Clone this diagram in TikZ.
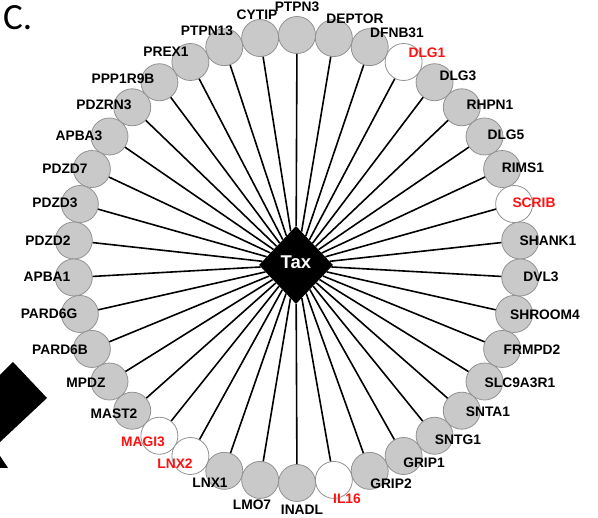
\documentclass[tikz,border=0pt]{standalone}
\usepackage{fontspec}
\setmainfont{Liberation Sans}
\newfontfamily\panelfont{Carlito}
\usetikzlibrary{shapes.geometric}
\definecolor{protgray}{HTML}{C9C9C9}
\definecolor{ringedge}{HTML}{929292}
\definecolor{hitred}{HTML}{FF1111}
\tikzset{
	prot/.style={circle, draw=ringedge, line width=0.8pt, fill=protgray,
		minimum size=37pt, inner sep=0pt},
	hit/.style={prot, fill=white},
	protlabel/.style={font=\fontsize{13.8}{14}\selectfont\bfseries, inner sep=0pt},
	prot label/.style={text=black},
	hit label/.style={text=hitred},
	link/.style={line width=1.6pt},
}
\begin{document}
\begin{tikzpicture}[x=1pt, y=-1pt]
	\useasboundingbox (0,0) rectangle (598,518);
	% Panel
	\node[anchor=base west, inner sep=0pt, font=\panelfont\fontsize{37}{40}\selectfont]
		(panel) at (3,30) {C.};
	% Nachbarpanel
	\fill (0,375) -- (13,362) -- (47,398) -- (0,442) -- cycle;
	\fill (0,456) -- (8,468) -- (0,468) -- cycle;
	% Zentrum
	\node[diamond, fill=black, minimum width=74pt, minimum height=78pt, inner sep=0pt,
		label={[yshift=3pt, text=white, font=\fontsize{18.5}{20}\selectfont\bfseries]center:Tax}]
		(tax) at (296,265) {};
	% Partner
	\foreach \i/\name/\kind/\lx/\ly in {
			0/SHANK1/prot/548/241, 1/SCRIB/hit/534/203, 2/RIMS1/prot/523/168,
			3/DLG5/prot/506/135, 4/RHPN1/prot/490/105, 5/DLG3/prot/458/76,
			6/DLG1/hit/427/53, 7/DFNB31/prot/397/33, 8/DEPTOR/prot/355/19,
			9/PTPN3/prot/297/7, 10/CYTIP/prot/257/15, 11/PTPN13/prot/207/31,
			12/PREX1/prot/166/52, 13/PPP1R9B/prot/123/79, 14/PDZRN3/prot/104/105,
			15/APBA3/prot/79/136, 16/PDZD7/prot/65/169, 17/PDZD3/prot/55/203,
			18/PDZD2/prot/48/241, 19/APBA1/prot/47/277, 20/PARD6G/prot/49/314,
			21/PARD6B/prot/60/350, 22/MPDZ/prot/86/383, 23/MAST2/prot/114/414,
			24/MAGI3/hit/143/442, 25/LNX2/hit/175/464, 26/LNX1/prot/210/483,
			27/LMO7/prot/252/505, 28/INADL/prot/302/510, 29/IL16/hit/347/499,
			30/GRIP2/prot/391/484, 31/GRIP1/prot/424/463, 32/SNTG1/prot/458/440,
			33/SNTA1/prot/488/412, 34/SLC9A3R1/prot/520/383, 35/FRMPD2/prot/532/350,
			36/SHROOM4/prot/545/315, 37/DVL3/prot/541/277}{
		\pgfmathsetmacro{\a}{4.737+\i*9.4737}
		\node[\kind] (n\i) at ({297+224*cos(\a)}, {259-224*sin(\a)}) {};
		\draw[link] (tax) -- (n\i);
	}
	% Beschriftung
	\foreach \i/\name/\kind/\lx/\ly in {
			0/SHANK1/prot/548/241, 1/SCRIB/hit/534/203, 2/RIMS1/prot/523/168,
			3/DLG5/prot/506/135, 4/RHPN1/prot/490/105, 5/DLG3/prot/458/76,
			6/DLG1/hit/427/53, 7/DFNB31/prot/397/33, 8/DEPTOR/prot/355/19,
			9/PTPN3/prot/297/7, 10/CYTIP/prot/257/15, 11/PTPN13/prot/207/31,
			12/PREX1/prot/166/52, 13/PPP1R9B/prot/123/79, 14/PDZRN3/prot/104/105,
			15/APBA3/prot/79/136, 16/PDZD7/prot/65/169, 17/PDZD3/prot/55/203,
			18/PDZD2/prot/48/241, 19/APBA1/prot/47/277, 20/PARD6G/prot/49/314,
			21/PARD6B/prot/60/350, 22/MPDZ/prot/86/383, 23/MAST2/prot/114/414,
			24/MAGI3/hit/143/442, 25/LNX2/hit/175/464, 26/LNX1/prot/210/483,
			27/LMO7/prot/252/505, 28/INADL/prot/302/510, 29/IL16/hit/347/499,
			30/GRIP2/prot/391/484, 31/GRIP1/prot/424/463, 32/SNTG1/prot/458/440,
			33/SNTA1/prot/488/412, 34/SLC9A3R1/prot/520/383, 35/FRMPD2/prot/532/350,
			36/SHROOM4/prot/545/315, 37/DVL3/prot/541/277}{
		\node[protlabel, \kind\space label] (l\i) at (\lx,\ly) {\name};
	}
\end{tikzpicture}
\end{document}
